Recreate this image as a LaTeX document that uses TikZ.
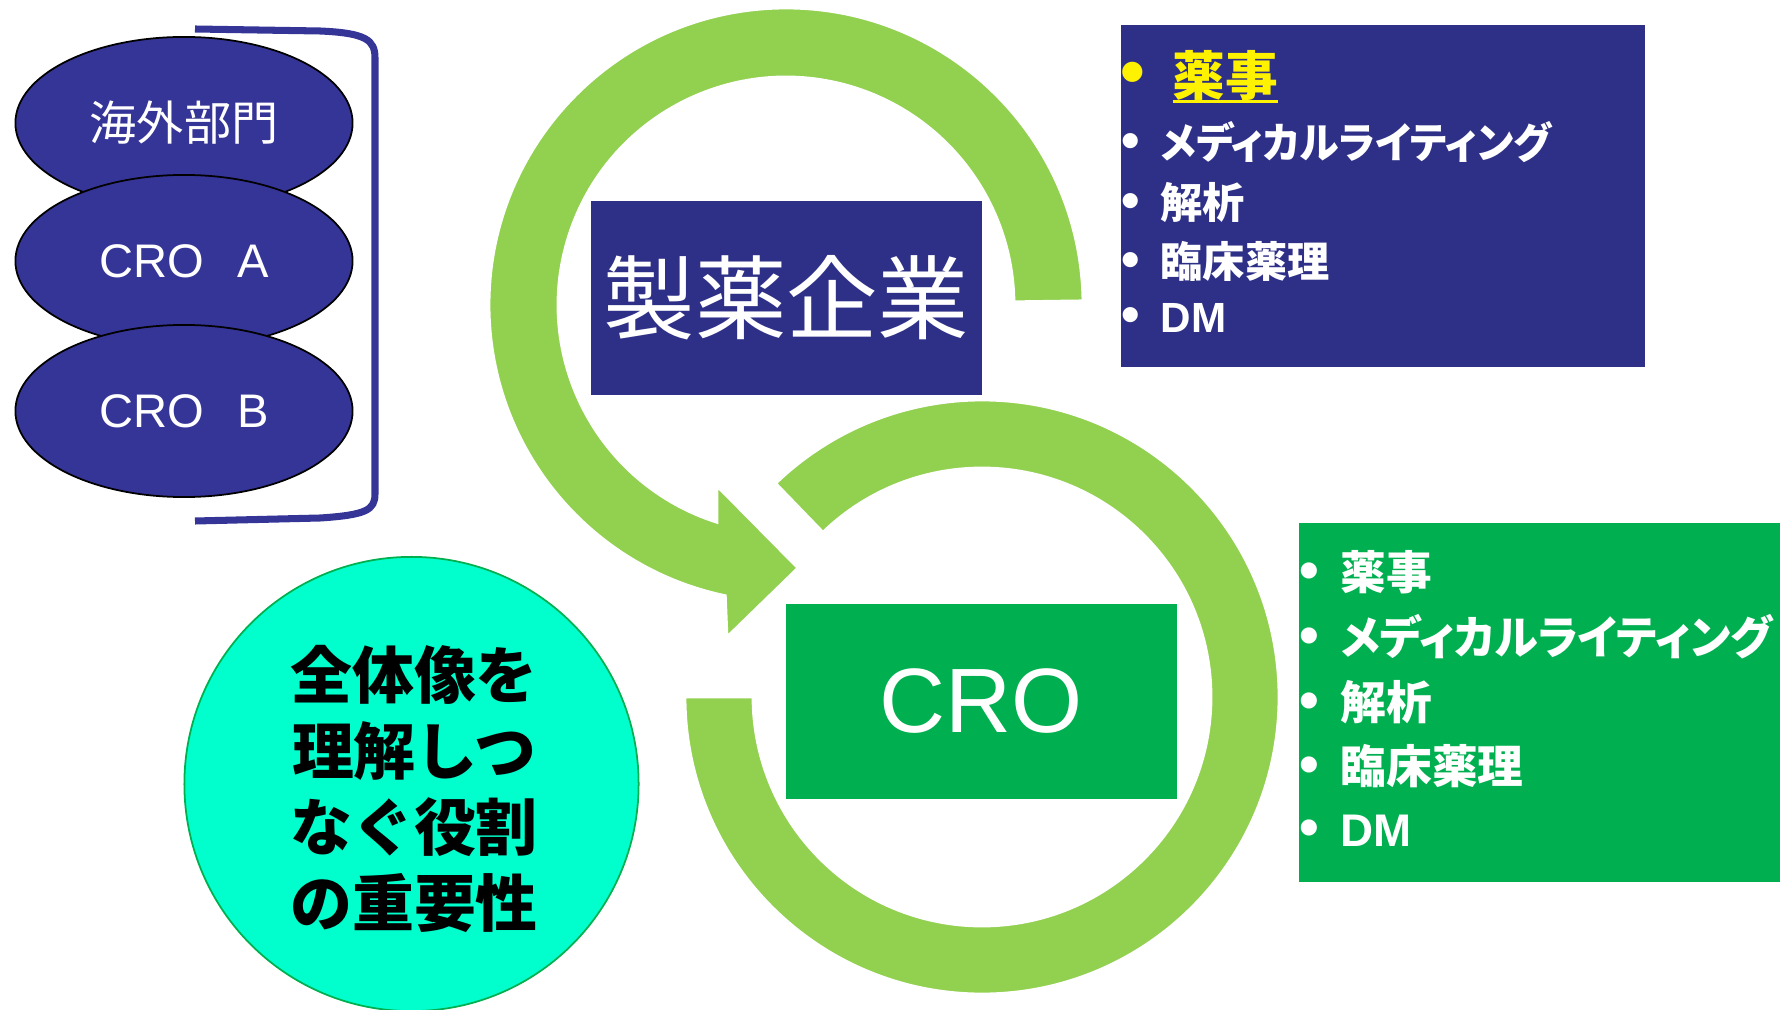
\documentclass[tikz,border=0pt]{standalone}
\usepackage{fontspec}
\usepackage{graphicx}
\setmainfont{Liberation Sans}
\newfontfamily\jpfont{Noto Sans CJK JP}
\newfontfamily\jpkana[RawFeature={+palt}]{Noto Sans CJK JP}
\newcommand\myul[1]{\setbox0\hbox{#1}\rlap{\rule[-0.15em]{\wd0}{0.065em}}\box0}
\usetikzlibrary{shapes.geometric,calc}
\definecolor{ringgreen}{RGB}{146,208,80}
\definecolor{navy}{RGB}{46,48,135}
\definecolor{ellblue}{RGB}{53,53,152}
\definecolor{crogreen}{RGB}{0,176,80}
\definecolor{aqua}{RGB}{0,255,204}
\begin{document}
\begin{tikzpicture}[x=0.01cm,y=0.01cm,
  ell/.style={ellipse,draw=black,line width=0.5pt,fill=ellblue,text=white,minimum width=3.37cm,minimum height=1.72cm,inner sep=0pt,font=\fontsize{13.4}{16}\selectfont},
  ring/.style={fill=ringgreen,draw=white,line width=0.8pt},
  bracketline/.style={draw=ellblue,line width=2pt},
  panel/.style={draw=none,inner sep=0pt,anchor=north west},
  itemw/.style={anchor=west,inner sep=0pt,text=white},
  bigbox/.style={inner sep=0pt,text=white,font=\fontsize{26}{30}\selectfont}]
\useasboundingbox (0,0) rectangle (1780,-1010);

% bracket
\draw[bracketline] (195,-29) -- (320,-31) .. controls (366,-33) and (375,-40) .. (375,-58) -- (375,-494) .. controls (375,-510) and (366,-515) .. (320,-518) -- (195,-521);

% ellipses
\node[ell] (e1) at (184,-123) {\jpfont 海外部門};
\node[ell] (e2) at (184,-261) {CRO\hspace{0.7em}A};
\node[ell] (e3) at (184,-411) {CRO\hspace{0.7em}B};

% ring 1 with arrow head
\coordinate (c1) at (786,-305);
\coordinate (c2) at (982,-697);
\path[ring] ($(c1)+(0.8:297)$) arc[start angle=0.8,end angle=258.2,radius=297]
  -- (727,-637) -- (798,-568) -- (717,-486)
  -- ($(c1)+(252.4:228)$) arc[start angle=252.4,end angle=0.8,radius=228] -- cycle;

% pharma box
\node[bigbox,fill=navy,minimum width=3.91cm,minimum height=1.94cm] (pharma) at (786.5,-298) {\jpfont 製薬企業};

% ring 2
\path[ring] ($(c2)+(180:297)$) arc[start angle=180,end angle=494,radius=297]
  -- ($(c2)+(134:229)$) arc[start angle=494,end angle=180,radius=229] -- cycle;

% CRO box
\node[bigbox,fill=crogreen,minimum width=3.91cm,minimum height=1.95cm] (cro) at (981.5,-701.5) {CRO};

% top right panel
\node[panel,fill=navy,minimum width=5.24cm,minimum height=3.42cm] (panelA) at (1120,-24) {};
\node[itemw,text=yellow,font=\bfseries\fontsize{15}{18}\selectfont] (a1) at (1120,-77) {\makebox[0.52cm][l]{\fontsize{20}{20}\selectfont •}{\jpfont\myul{薬事}}};
\node[itemw,font=\bfseries\fontsize{12}{14}\selectfont] (a2) at (1121,-142) {\makebox[0.39cm][l]{\fontsize{15}{15}\selectfont •}\scalebox{0.945}[1]{\jpkana メディカルライティング}};
\node[itemw,font=\bfseries\fontsize{12}{14}\selectfont] (a3) at (1121,-202) {\makebox[0.39cm][l]{\fontsize{15}{15}\selectfont •}{\jpfont 解析}};
\node[itemw,font=\bfseries\fontsize{12}{14}\selectfont] (a4) at (1121,-261) {\makebox[0.39cm][l]{\fontsize{15}{15}\selectfont •}{\jpfont 臨床薬理}};
\node[itemw,font=\bfseries\fontsize{12}{14}\selectfont] (a5) at (1121,-318) {\makebox[0.39cm][l]{\fontsize{15}{15}\selectfont •}DM};

% bottom right panel
\node[panel,fill=crogreen,minimum width=4.9cm,minimum height=3.59cm] (panelB) at (1298,-522) {};
\node[itemw,font=\bfseries\fontsize{13}{15}\selectfont] (b1) at (1299,-572) {\makebox[0.41cm][l]{\fontsize{16}{16}\selectfont •}{\jpfont 薬事}};
\node[itemw,font=\bfseries\fontsize{13}{15}\selectfont] (b2) at (1299,-637) {\makebox[0.41cm][l]{\fontsize{16}{16}\selectfont •}\scalebox{0.965}[1]{\jpkana メディカルライティング}};
\node[itemw,font=\bfseries\fontsize{13}{15}\selectfont] (b3) at (1299,-702) {\makebox[0.41cm][l]{\fontsize{16}{16}\selectfont •}{\jpfont 解析}};
\node[itemw,font=\bfseries\fontsize{13}{15}\selectfont] (b4) at (1299,-766) {\makebox[0.41cm][l]{\fontsize{16}{16}\selectfont •}{\jpfont 臨床薬理}};
\node[itemw,font=\bfseries\fontsize{13}{15}\selectfont] (b5) at (1299,-831) {\makebox[0.41cm][l]{\fontsize{16}{16}\selectfont •}DM};

% circle
\node[circle,fill=aqua,draw=crogreen,line width=0.5pt,minimum size=4.54cm,inner sep=0pt] (role) at (411.5,-784) {};
\node[align=center,inner sep=0pt,font=\jpfont\bfseries\fontsize{17.6}{21.6}\selectfont] (roletext) at (414,-789) {全体像を\\理解しつ\\なぐ役割\\の重要性};
\end{tikzpicture}
\end{document}
